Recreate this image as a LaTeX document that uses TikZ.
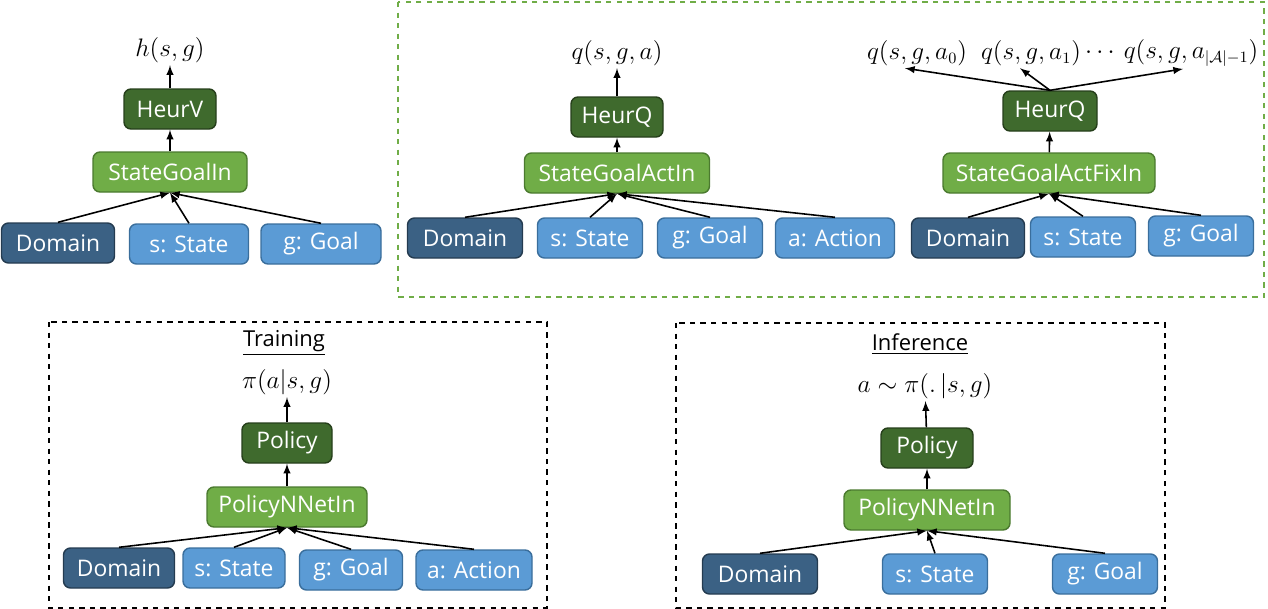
\documentclass[tikz,border=0pt]{standalone}
\usepackage{fontspec}
\setmainfont{Open Sans}
\definecolor{domfill}{HTML}{3B6184}
\definecolor{domline}{HTML}{243B50}
\definecolor{inpfill}{HTML}{5B9BD5}
\definecolor{inpline}{HTML}{3A6E9C}
\definecolor{encfill}{HTML}{70AD47}
\definecolor{encline}{HTML}{4B7A2F}
\definecolor{netfill}{HTML}{3F6A2D}
\definecolor{netline}{HTML}{263F1B}
\begin{document}
\begin{tikzpicture}[>=latex, line width=0.9pt,
  box/.style={rounded corners=4pt, draw, line width=0.8pt, minimum height=0.8cm, inner sep=2pt,
    text=white, font=\fontsize{13}{15}\selectfont},
  dom/.style={box, fill=domfill, draw=domline},
  inp/.style={box, fill=inpfill, draw=inpline},
  enc/.style={box, fill=encfill, draw=encline},
  net/.style={box, fill=netfill, draw=netline},
  outlbl/.style={inner sep=1pt, font=\fontsize{13.5}{16}\selectfont},
  frame/.style={dashed, line width=0.8pt}]
  \useasboundingbox (0,0) rectangle (25.36,-12.18);

  % value heuristic
  \node (hvout) at (3.40,-1.00) [outlbl] {$h(s,g)$} ;
  \node (hv) at (3.40,-2.18) [net, minimum width=1.84cm] {HeurV} ;
  \node (sgi) at (3.40,-3.44) [enc, minimum width=3.08cm] {StateGoalIn} ;
  \node (dom1) at (1.16,-4.86) [dom, minimum width=2.26cm] {Domain} ;
  \node (st1) at (3.78,-4.88) [inp, minimum width=2.38cm] {s: State} ;
  \node (gl1) at (6.42,-4.88) [inp, minimum width=2.40cm] {g: Goal} ;

  \draw [->] (hv) -- (hvout);
  \draw [->] (sgi) -- (hv);
  \draw [->] (dom1.north) -- (sgi.south);
  \draw [->] (st1.north) -- (sgi.south);
  \draw [->] (gl1.north) -- (sgi.south);

  % q heuristics
  \draw [frame, draw=encfill] (7.96,-0.04) rectangle (25.28,-5.94);

  \node (qout) at (12.34,-1.06) [outlbl] {$q(s,g,a)$} ;
  \node (hq1) at (12.34,-2.34) [net, minimum width=1.84cm] {HeurQ} ;
  \node (sgai) at (12.34,-3.46) [enc, minimum width=3.70cm] {StateGoalActIn} ;
  \node (dom2) at (9.30,-4.76) [dom, minimum width=2.30cm] {Domain} ;
  \node (st2) at (11.80,-4.76) [inp, minimum width=2.10cm] {s: State} ;
  \node (gl2) at (14.20,-4.76) [inp, minimum width=2.10cm] {g: Goal} ;
  \node (ac2) at (16.70,-4.76) [inp, minimum width=2.38cm] {a: Action} ;

  \draw [->] (hq1) -- (qout);
  \draw [->] (sgai) -- (hq1);
  \draw [->] (dom2.north) -- (sgai.south);
  \draw [->] (st2.north) -- (sgai.south);
  \draw [->] (gl2.north) -- (sgai.south);
  \draw [->] (ac2.north) -- (sgai.south);

  \node (q0) at (18.34,-1.06) [outlbl] {$q(s,g,a_0)$} ;
  \node (q1) at (20.62,-1.06) [outlbl] {$q(s,g,a_1)$} ;
  \node (qdots) at (22.00,-1.06) [outlbl] {$\cdots$} ;
  \node (qn) at (23.82,-1.06) [outlbl] {$q\big(s,g,a_{|\mathcal{A}|-1}\big)$} ;
  \node (hq2) at (21.00,-2.22) [net, minimum width=1.88cm] {HeurQ} ;
  \node (sgafi) at (20.98,-3.46) [enc, minimum width=4.24cm] {StateGoalActFixIn} ;
  \node (dom3) at (19.36,-4.76) [dom, minimum width=2.26cm] {Domain} ;
  \node (st3) at (21.66,-4.74) [inp, minimum width=2.10cm] {s: State} ;
  \node (gl3) at (24.02,-4.72) [inp, minimum width=2.10cm] {g: Goal} ;

  \draw [->] (hq2.north) -- ([xshift=-0.24cm]q0.south);
  \draw [->] (hq2.north) -- ([xshift=-0.22cm]q1.south);
  \draw [->] (hq2.north) -- ([xshift=-0.16cm]qn.south);
  \draw [->] (sgafi) -- (hq2);
  \draw [->] (dom3.north) -- (sgafi.south);
  \draw [->] (st3.north) -- (sgafi.south);
  \draw [->] (gl3.north) -- (sgafi.south);

  % policy, training
  \draw [frame] (0.98,-6.44) rectangle (10.94,-12.16);

  \node (train) at (5.68,-6.86) [font=\fontsize{12.5}{15}\selectfont] {\underline{Training}} ;
  \node (pitr) at (5.74,-7.64) [outlbl] {$\pi(a|s,g)$} ;
  \node (pol1) at (5.74,-8.86) [net, minimum width=1.80cm] {Policy} ;
  \node (pnn1) at (5.74,-10.14) [enc, minimum width=3.20cm] {PolicyNNetIn} ;
  \node (dom4) at (2.38,-11.36) [dom, minimum width=2.22cm] {Domain} ;
  \node (st4) at (4.68,-11.36) [inp, minimum width=2.04cm] {s: State} ;
  \node (gl4) at (7.02,-11.40) [inp, minimum width=2.06cm] {g: Goal} ;
  \node (ac4) at (9.48,-11.40) [inp, minimum width=2.32cm] {a: Action} ;

  \draw [->] (pol1) -- (pitr);
  \draw [->] (pnn1) -- (pol1);
  \draw [->] (dom4.north) -- (pnn1.south);
  \draw [->] (st4.north) -- (pnn1.south);
  \draw [->] (gl4.north) -- (pnn1.south);
  \draw [->] (ac4.north) -- (pnn1.south);

  % policy, inference
  \draw [frame] (13.52,-6.46) rectangle (23.30,-12.16);

  \node (infer) at (18.40,-6.88) [font=\fontsize{12.5}{15}\selectfont] {\underline{Inference}} ;
  \node (piinf) at (18.50,-7.72) [outlbl] {$a\sim\pi(.\,|s,g)$} ;
  \node (pol2) at (18.54,-8.96) [net, minimum width=1.84cm] {Policy} ;
  \node (pnn2) at (18.54,-10.20) [enc, minimum width=3.32cm] {PolicyNNetIn} ;
  \node (dom5) at (15.20,-11.48) [dom, minimum width=2.30cm] {Domain} ;
  \node (st5) at (18.70,-11.48) [inp, minimum width=2.10cm] {s: State} ;
  \node (gl5) at (22.10,-11.48) [inp, minimum width=2.10cm] {g: Goal} ;

  \draw [->] (pol2) -- (piinf);
  \draw [->] (pnn2) -- (pol2);
  \draw [->] (dom5.north) -- (pnn2.south);
  \draw [->] (st5.north) -- (pnn2.south);
  \draw [->] (gl5.north) -- (pnn2.south);
\end{tikzpicture}
\end{document}
